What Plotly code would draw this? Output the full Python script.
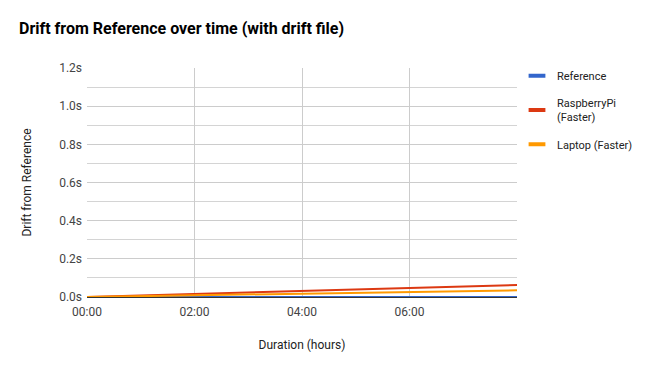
import plotly.graph_objects as go

hours = [0, 0.5, 1, 1.5, 2, 2.5, 3, 3.5, 4, 4.5, 5, 5.5, 6, 6.5, 7, 7.5, 8]
reference = [0.0] * 17
raspberry_pi = [0.000, 0.004, 0.008, 0.011, 0.016, 0.019, 0.024, 0.027, 0.031, 0.035, 0.039, 0.043, 0.047, 0.051, 0.055, 0.059, 0.063]
laptop = [0.000, 0.002, 0.004, 0.006, 0.009, 0.011, 0.013, 0.015, 0.017, 0.019, 0.022, 0.024, 0.026, 0.028, 0.031, 0.033, 0.035]

x_tick_vals = [0, 2, 4, 6]
x_tick_text = ["00:00", "02:00", "04:00", "06:00"]
y_tick_vals = [0.0, 0.2, 0.4, 0.6, 0.8, 1.0, 1.2]
y_tick_text = ["0.0s", "0.2s", "0.4s", "0.6s", "0.8s", "1.0s", "1.2s"]

series = [
    ("Reference", reference, "#3366cc"),
    ("RaspberryPi<br>(Faster)", raspberry_pi, "#dc3912"),
    ("Laptop (Faster)", laptop, "#ff9900"),
]

fig = go.Figure()
for name, vals, color in series:
    fig.add_trace(go.Scatter(x=hours, y=vals, mode="lines", name=name,
                             line=dict(color=color, width=2), showlegend=False))
for name, vals, color in series:
    fig.add_trace(go.Scatter(x=[None], y=[None], mode="markers", name=name,
                             legendgroup=name,
                             marker=dict(symbol="line-ew", size=12, color=color,
                                         line=dict(width=4, color=color))))

fig.update_layout(
    width=667, height=371,
    margin=dict(l=87, r=150, t=68, b=74),
    paper_bgcolor="white", plot_bgcolor="white",
    font=dict(family="Roboto", size=12, color="#444"),
    title=dict(text="<b>Drift from Reference over time (with drift file)</b>",
               x=19 / 667, xanchor="left", y=1 - 28 / 371, yanchor="middle",
               font=dict(family="Roboto", size=16, color="#000")),
    legend=dict(x=1.0, xanchor="left", y=1.03, yanchor="top",
                font=dict(family="Roboto", size=11, color="#222"),
                itemwidth=30, tracegroupgap=9, bgcolor="rgba(0,0,0,0)"),
    showlegend=True,
    xaxis=dict(
        range=[0, 8.0], tickvals=x_tick_vals, ticktext=x_tick_text,
        showgrid=True, gridcolor="#cccccc", gridwidth=1, zeroline=False,
        showline=False, ticks="", ticklabelstandoff=6, tickfont=dict(size=12, color="#444"),
        title=dict(text="Duration (hours)", font=dict(size=12, color="#222"), standoff=22),
    ),
    yaxis=dict(
        range=[0, 1.2], tickvals=y_tick_vals, ticktext=y_tick_text,
        showgrid=True, gridcolor="#cccccc", gridwidth=1,
        minor=dict(tickmode="linear", tick0=0.1, dtick=0.2, showgrid=True,
                   gridcolor="#d4d4d4", gridwidth=1, ticks=""),
        zeroline=True, zerolinecolor="#333333", zerolinewidth=1,
        showline=False, ticks="", ticklabelstandoff=4, tickfont=dict(size=12, color="#444"),
        title=dict(text="Drift from Reference", font=dict(size=12, color="#222"), standoff=24),
    ),
)

fig.write_html("out.html")
